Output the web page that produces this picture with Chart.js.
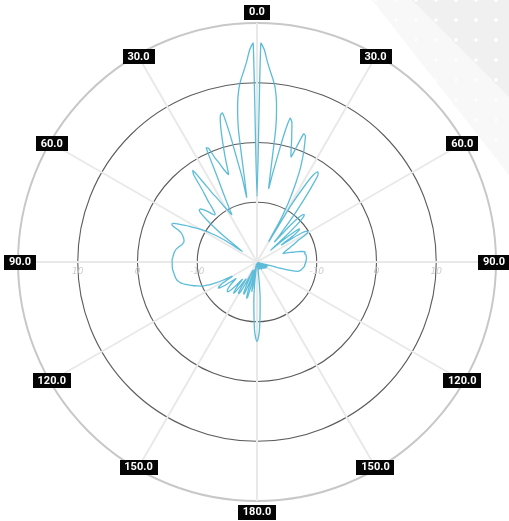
<!DOCTYPE html>
<html>
<head>
<meta charset="utf-8">
<title>Radiation pattern</title>
<script src="https://cdn.jsdelivr.net/npm/chart.js@4.4.1/dist/chart.umd.min.js"></script>
<style>
  html, body { margin: 0; padding: 0; background: #fff; }
  #wrap { position: relative; width: 509px; height: 521px; overflow: hidden; }
  .deco { position: absolute; left: 0; top: 0; width: 509px; height: 521px; pointer-events: none; }
  .deco.light {
    background: #f8f8f8 radial-gradient(circle, #fff 1.3px, transparent 1.7px) 6px 10px / 20px 20px;
    clip-path: polygon(372px 0, 509px 0, 509px 175px);
  }
  .deco.dark {
    background: #f0f0f0 radial-gradient(circle, #fff 1.5px, transparent 1.9px) 6px 10px / 20px 20px;
    clip-path: polygon(412px 0, 509px 0, 509px 97px);
  }
  canvas { position: relative; }
</style>
</head>
<body>
<div id="wrap">
  <div class="deco light"></div>
  <div class="deco dark"></div>
  <canvas id="pattern" width="509" height="521"></canvas>
</div>
<script>
// Gain in dB, one sample per degree, clockwise from 0 (top) to 359
const gainDb = [
  -9, 16.6, 15.5, 13.5, 12, 10.7, 9.2, 6.8, 2.5, -7.5,
  -5, -2, 2, 4.7, 4.1, 2.5, 1, -0.5, -1.5, 0.5,
  2.8, 2.6, 1.3, 0, -1.5, -3, -5, -7, -9, -12,
  -16, -9, -5, -2.5, -1.8, -2.2, -4.5, -7, -9.5, -12,
  -14, -15.5, -12.5, -10, -9, -8.8, -9.3, -11, -14, -17,
  -14, -12, -11, -11.2, -12.5, -15, -13, -11, -10.3, -10.1,
  -10.2, -11, -12, -12.6, -13, -13.5, -13.9, -14.2, -14.6, -14.9,
  -15.1, -15.3, -15.4, -14.8, -14.2, -13.6, -12.8, -12.2, -11.8, -11.8,
  -11.9, -11.8, -11.7, -11.7, -11.7, -11.7, -11.7, -11.7, -11.8, -11.8,
  -11.8, -11.9, -11.9, -12, -12, -12, -12.1, -12.2, -12.3, -12.4,
  -12.5, -12.6, -12.8, -13, -14, -16, -18.5, -19.2, -18.6, -18.2,
  -18.5, -19.4, -19.8, -19, -18.4, -18.1, -18.4, -19.1, -19.7, -19.3,
  -18.7, -18.3, -18.2, -18.6, -19.3, -19.8, -19.2, -18.6, -18.3, -18.5,
  -19.1, -19.6, -19.4, -18.9, -18.6, -18.5, -18.8, -19.4, -19.8, -19.3,
  -18.9, -18.7, -18.8, -19.2, -19.7, -19.5, -19, -18.7, -18.6, -18.9,
  -19.4, -19.8, -19.4, -19, -18.8, -18.9, -19.3, -19.7, -19.6, -19.2,
  -18.9, -18.8, -19.1, -19.5, -19.8, -19.4, -19, -18.7, -18.9, -19.4,
  -19.8, -19.5, -19.2, -18, -16, -14, -12.5, -10.5, -8.5, -7.3,
  -6.7, -7.3, -8.5, -10.5, -12.5, -14, -16, -18, -19.5, -16.5,
  -15, -17.2, -19.6, -18, -15.5, -13.9, -13.7, -14.8, -17, -18.6,
  -16.8, -15, -14.2, -14.3, -15.2, -17, -18.4, -17.2, -15.5, -14.3,
  -13.9, -14, -15, -16.6, -16.2, -14.8, -13.8, -13.5, -14, -15,
  -16.2, -15.8, -14.6, -13.6, -13.1, -13, -13.1, -13.3, -13.6, -14,
  -14.6, -15.3, -15.5, -14.5, -13.3, -12.5, -12.2, -12.4, -13, -14.2,
  -15.2, -14.5, -13.5, -12.4, -11.6, -10.8, -10.1, -9.7, -9.3, -8.9,
  -8.5, -8.1, -7.7, -7.3, -7, -6.7, -6.5, -6.3, -6.2, -6.1,
  -6.1, -6, -6, -5.9, -5.9, -5.8, -5.8, -5.8, -5.8, -5.8,
  -5.8, -5.8, -5.8, -5.9, -5.9, -6, -6, -6.1, -6.2, -6.3,
  -6.5, -6.7, -6.9, -7.1, -7.2, -7.3, -7.3, -7.2, -7.1, -6.9,
  -6.7, -6.4, -5.9, -4.8, -4.4, -4.7, -5.6, -6.5, -7.4, -8.2,
  -9, -10, -11, -12, -13.5, -15.5, -17, -15.5, -13, -11,
  -9, -7.6, -7, -7, -7.3, -7.8, -8.4, -9, -9.4, -9.3,
  -8.6, -7.3, -6, -4.5, -2, -1.3, -3.8, -6.2, -7.5, -8.8,
  -9.7, -10.5, -11, -9.2, -7, -4.2, 0.9, 0.6, -1.2, -2.2,
  -3.3, -4.1, -4.6, -2, 0.8, 3.5, 5.3, 5.6, 2, -2.5,
  -5.5, -9, 2.2, 6.6, 9.1, 10.7, 12, 13.5, 15.5, 16.6
];

// angle categories in degrees (one per sample)
const angleDeg = gainDb.map((_, i) => i);

// labelled spokes every 30 degrees
const spokeStep = 30;
const spokeLabels = ['0.0', '30.0', '60.0', '90.0', '120.0', '150.0', '180.0', '150.0', '120.0', '90.0', '60.0', '30.0'];

// radial scale
const radialMin = -20;
const radialMax = 20;
const radialTicks = [-10, 0, 10];

// Draws the tick labels along the horizontal axis and the black angle boxes
const patternLabels = {
  id: 'patternLabels',
  beforeDatasetsDraw(chart) {
    const r = chart.scales.r;
    const ctx = chart.ctx;
    ctx.save();
    ctx.font = 'italic 9px "DejaVu Sans"';
    ctx.fillStyle = '#cdcdcd';
    ctx.textAlign = 'center';
    ctx.textBaseline = 'middle';
    radialTicks.forEach(v => {
      const d = r.getDistanceFromCenterForValue(v);
      ctx.fillText(String(v), r.xCenter + d, r.yCenter + 10);
      ctx.fillText(String(v), r.xCenter - d, r.yCenter + 10);
    });
    ctx.restore();
  },
  afterDraw(chart) {
    const r = chart.scales.r;
    const ctx = chart.ctx;
    ctx.save();
    ctx.font = 'bold 11px Roboto';
    ctx.textAlign = 'center';
    ctx.textBaseline = 'middle';
    spokeLabels.forEach((txt, k) => {
      const idx = k * spokeStep;
      const out = idx % 180 === 0 ? 11 : -2;
      const p = r.getPointPosition(idx, r.drawingArea + out);
      const w = Math.round(ctx.measureText(txt).width + 10);
      const h = 15;
      ctx.fillStyle = '#050505';
      ctx.fillRect(Math.round(p.x - w / 2), Math.round(p.y - h / 2), w, h);
      ctx.fillStyle = '#ffffff';
      ctx.fillText(txt, p.x, p.y + 0.5);
    });
    ctx.restore();
  }
};

new Chart(document.getElementById('pattern'), {
  type: 'radar',
  data: {
    labels: angleDeg,
    datasets: [{
      label: 'Gain (dB)',
      data: gainDb,
      borderColor: 'rgba(84, 184, 214, 0.95)',
      borderWidth: 1.3,
      pointRadius: 0,
      pointHoverRadius: 0,
      fill: false,
      tension: 0.2
    }]
  },
  options: {
    responsive: false,
    animation: false,
    layout: {
      padding: { left: 18, right: 13, top: 23, bottom: 20 }
    },
    plugins: {
      legend: { display: false },
      tooltip: { enabled: false }
    },
    scales: {
      r: {
        min: radialMin,
        max: radialMax,
        ticks: { stepSize: 10, display: false },
        grid: {
          circular: true,
          color: c => c.tick.value === radialMax ? '#c8c8c8' : '#5c5c5c',
          lineWidth: c => c.tick.value === radialMax ? 2 : 1.1
        },
        angleLines: {
          color: c => c.index % spokeStep === 0 ? '#e9e9e9' : null,
          lineWidth: c => c.index % spokeStep === 0 ? 2 : 0
        },
        pointLabels: { display: false }
      }
    }
  },
  plugins: [patternLabels]
});
</script>
</body>
</html>
